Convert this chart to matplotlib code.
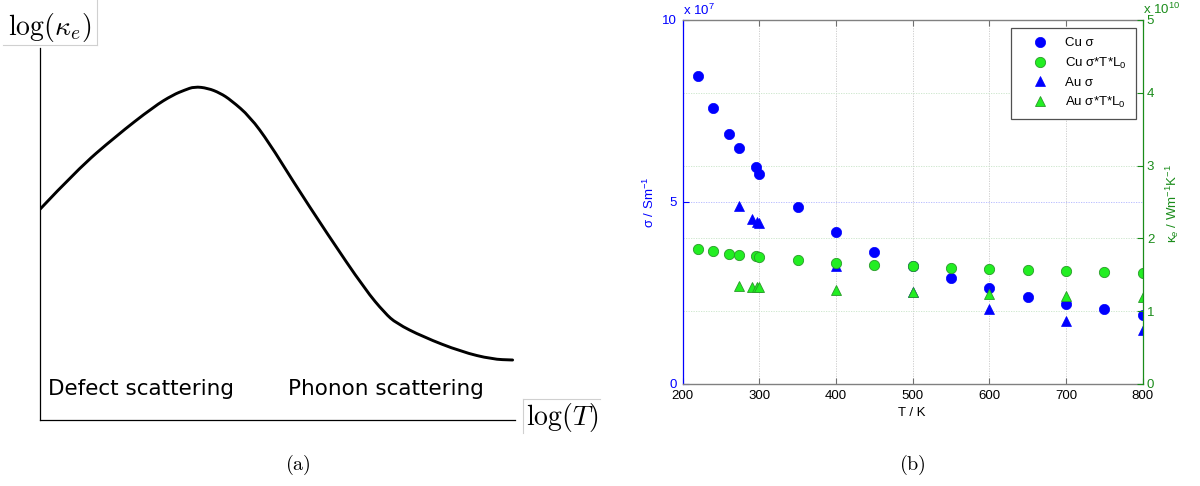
import matplotlib
matplotlib.use("Agg")
import matplotlib.pyplot as plt
from matplotlib.path import Path
from matplotlib.patches import PathPatch
from matplotlib.lines import Line2D

plt.rcParams["font.family"] = ["Liberation Sans", "DejaVu Sans"]
plt.rcParams["mathtext.fontset"] = "custom"
plt.rcParams["mathtext.rm"] = "Liberation Sans"
plt.rcParams["mathtext.it"] = "Liberation Sans:italic"
plt.rcParams["mathtext.bf"] = "Liberation Sans:bold"

# ---------------- (a) schematic: log(kappa_e) vs log(T), arbitrary units
schem_logT = [0.000, 0.078, 0.159, 0.240, 0.280, 0.305, 0.325, 0.353, 0.379,
              0.402, 0.442, 0.483, 0.531, 0.604, 0.685, 0.726, 0.750, 0.806,
              0.887, 0.952, 0.995]
schem_logk = [0.562, 0.667, 0.756, 0.836, 0.867, 0.880, 0.889, 0.885, 0.872,
              0.853, 0.809, 0.738, 0.640, 0.498, 0.347, 0.285, 0.258, 0.222,
              0.182, 0.162, 0.160]
region_labels = ["Defect scattering", "Phonon scattering"]
region_x = [0.017, 0.522]

# ---------------- (b) measured data
T_cu = [220, 240, 260, 273, 295, 300, 350, 400, 450, 500, 550, 600, 650, 700, 750, 800]
sigma_cu = [8.46, 7.59, 6.88, 6.48, 5.96, 5.78, 4.85, 4.17, 3.64, 3.23, 2.91,
            2.64, 2.40, 2.21, 2.05, 1.89]            # x 1e7 S/m
kappa_cu = [1.86, 1.83, 1.79, 1.77, 1.76, 1.74, 1.70, 1.66, 1.64, 1.615, 1.60,
            1.58, 1.565, 1.55, 1.54, 1.52]           # x 1e10
T_au = [273, 291, 297, 300, 400, 500, 600, 700, 800]
sigma_au = [4.90, 4.53, 4.44, 4.41, 3.25, 2.54, 2.07, 1.74, 1.49]
kappa_au = [1.34, 1.33, 1.33, 1.33, 1.29, 1.27, 1.24, 1.21, 1.19]

x_ticks = [200, 300, 400, 500, 600, 700, 800]
left_ticks = [0, 5, 10]
right_ticks = [0, 1, 2, 3, 4, 5]

BLUE = "#0000ff"
DGREEN = "#1a8c1a"
LGREEN = "#22ee22"

W, H = 1200, 486
fig = plt.figure(figsize=(W / 100, H / 100), dpi=100)


def box(l, t, r, b):
    return [l / W, 1 - b / H, (r - l) / W, (b - t) / H]


def fx(x):
    return x / W


def fy(y):
    return 1 - y / H


# ---------------- panel (a)
axa = fig.add_axes(box(40, 48, 515, 420))
axa.set_xlim(0, 1)
axa.set_ylim(0, 372 / 375)
pts = list(zip(schem_logT, schem_logk))
verts = [pts[0]]
codes = [Path.MOVETO]
for i in range(1, len(pts) - 1):
    nxt = ((pts[i][0] + pts[i + 1][0]) / 2, (pts[i][1] + pts[i + 1][1]) / 2)
    verts += [pts[i], nxt]
    codes += [Path.CURVE3, Path.CURVE3]
verts.append(pts[-1])
codes.append(Path.LINETO)
axa.add_patch(PathPatch(Path(verts, codes), facecolor="none",
                        edgecolor="black", lw=2.1, capstyle="round",
                        joinstyle="round"))
for s in ["top", "right"]:
    axa.spines[s].set_visible(False)
for s in ["left", "bottom"]:
    axa.spines[s].set_linewidth(0.9)
    axa.spines[s].set_color("black")
axa.set_xticks([])
axa.set_yticks([])
axa.patch.set_visible(False)
for lab, xx in zip(region_labels, region_x):
    axa.text(xx, 31 / 375, lab, ha="left", va="center", fontsize=15.5,
             family="DejaVu Sans")

fig.text(fx(50), fy(27), r"$\log(\kappa_e)$", ha="center", va="center",
         fontsize=20, math_fontfamily="cm")
fig.text(fx(562), fy(417), r"$\log(T)$", ha="center", va="center",
         fontsize=20, math_fontfamily="cm")
# light frame edges around the axis captions
fig.add_artist(Line2D([fx(3), fx(97)], [fy(45), fy(45)], color="#d0d0d0", lw=0.8))
fig.add_artist(Line2D([fx(97), fx(97)], [fy(0), fy(45)], color="#d0d0d0", lw=0.8))
fig.add_artist(Line2D([fx(523), fx(600)], [fy(399), fy(399)], color="#d0d0d0", lw=0.8))
fig.add_artist(Line2D([fx(523), fx(523)], [fy(399), fy(433)], color="#d0d0d0", lw=0.8))

fig.text(fx(298), fy(465), r"$\mathrm{(a)}$", ha="center", va="center",
         fontsize=14.5, math_fontfamily="cm")
fig.text(fx(912), fy(465), r"$\mathrm{(b)}$", ha="center", va="center",
         fontsize=14.5, math_fontfamily="cm")

# ---------------- panel (b)
ax = fig.add_axes(box(682.7, 20, 1142.7, 384))
axr = ax.twinx()

ax.set_xlim(200, 800)
ax.set_ylim(0, 10)
axr.set_ylim(0, 5)

# grid lines (drawn under the markers)
for xv in x_ticks[1:-1]:
    ax.axvline(xv, color="#c8c8c8", lw=0.6, ls=(0, (1.5, 1.5)), zorder=0)
for rv in right_ticks[1:-1]:
    ax.axhline(rv * 2, color="#c8e4c8", lw=0.6, ls=(0, (1.5, 1.5)), zorder=0)
ax.axhline(5, color="#b0b4ff", lw=0.6, ls=(0, (1.5, 1.5)), zorder=0)

h1, = ax.plot(T_cu, sigma_cu, ls="none", marker="o", ms=7.4,
              mfc=BLUE, mec=BLUE, mew=0.5, label="Cu σ")
h3, = ax.plot(T_au, sigma_au, ls="none", marker="^", ms=7.6,
              mfc=BLUE, mec=BLUE, mew=0.5, label="Au σ")
h2, = axr.plot(T_cu, kappa_cu, ls="none", marker="o", ms=7.4,
               mfc=LGREEN, mec="#2a9a2a", mew=0.6,
               label="Cu σ*T*L$_0$")
h4, = axr.plot(T_au, kappa_au, ls="none", marker="^", ms=7.6,
               mfc=LGREEN, mec="#2a9a2a", mew=0.6,
               label="Au σ*T*L$_0$")

ax.set_xticks(x_ticks)
ax.set_yticks(left_ticks)
axr.set_yticks(right_ticks)

ax.tick_params(axis="x", direction="in", length=4, width=0.8, top=True,
               color="#707070", labelcolor="black", labelsize=9.5, pad=4)
ax.tick_params(axis="y", direction="in", length=4, width=0.8, color=BLUE,
               labelcolor=BLUE, labelsize=9.5, pad=4)
axr.tick_params(axis="y", direction="in", length=4, width=0.8, color=DGREEN,
                labelcolor=DGREEN, labelsize=9.5, pad=3)

ax.spines["left"].set_color(BLUE)
ax.spines["right"].set_visible(False)
for s in ["top", "bottom"]:
    ax.spines[s].set_color("#808080")
    ax.spines[s].set_linewidth(1.0)
ax.spines["left"].set_linewidth(0.9)
axr.spines["right"].set_color(DGREEN)
axr.spines["right"].set_linewidth(0.9)
for s in ["left", "top", "bottom"]:
    axr.spines[s].set_visible(False)

fig.text(fx(912), fy(413), "T / K", ha="center", va="center", fontsize=9.5)
fig.text(fx(649), fy(202), "σ / Sm$^{-1}$", ha="center", va="center",
         rotation=90, fontsize=9.5, color=BLUE)
fig.text(fx(1172), fy(203), "κ$_e$ / Wm$^{-1}$K$^{-1}$", ha="center",
         va="center", rotation=90, fontsize=9.5, color=DGREEN)
fig.text(fx(683), fy(15), "x 10$^{7}$", ha="left", va="baseline",
         fontsize=9.5, color=BLUE)
fig.text(fx(1143), fy(14), "x 10$^{10}$", ha="left", va="baseline",
         fontsize=9.5, color=DGREEN)

leg = axr.legend(handles=[h1, h2, h3, h4], loc="upper right",
                 bbox_to_anchor=(fx(1136), fy(28)),
                 bbox_transform=fig.transFigure, borderaxespad=0,
                 fancybox=False, framealpha=1, edgecolor="#505050",
                 fontsize=9.5, handlelength=3.0, handletextpad=0.4,
                 borderpad=0.7, labelspacing=0.45, numpoints=1)
leg.get_frame().set_linewidth(0.9)

fig.savefig("out.png", dpi=100)
